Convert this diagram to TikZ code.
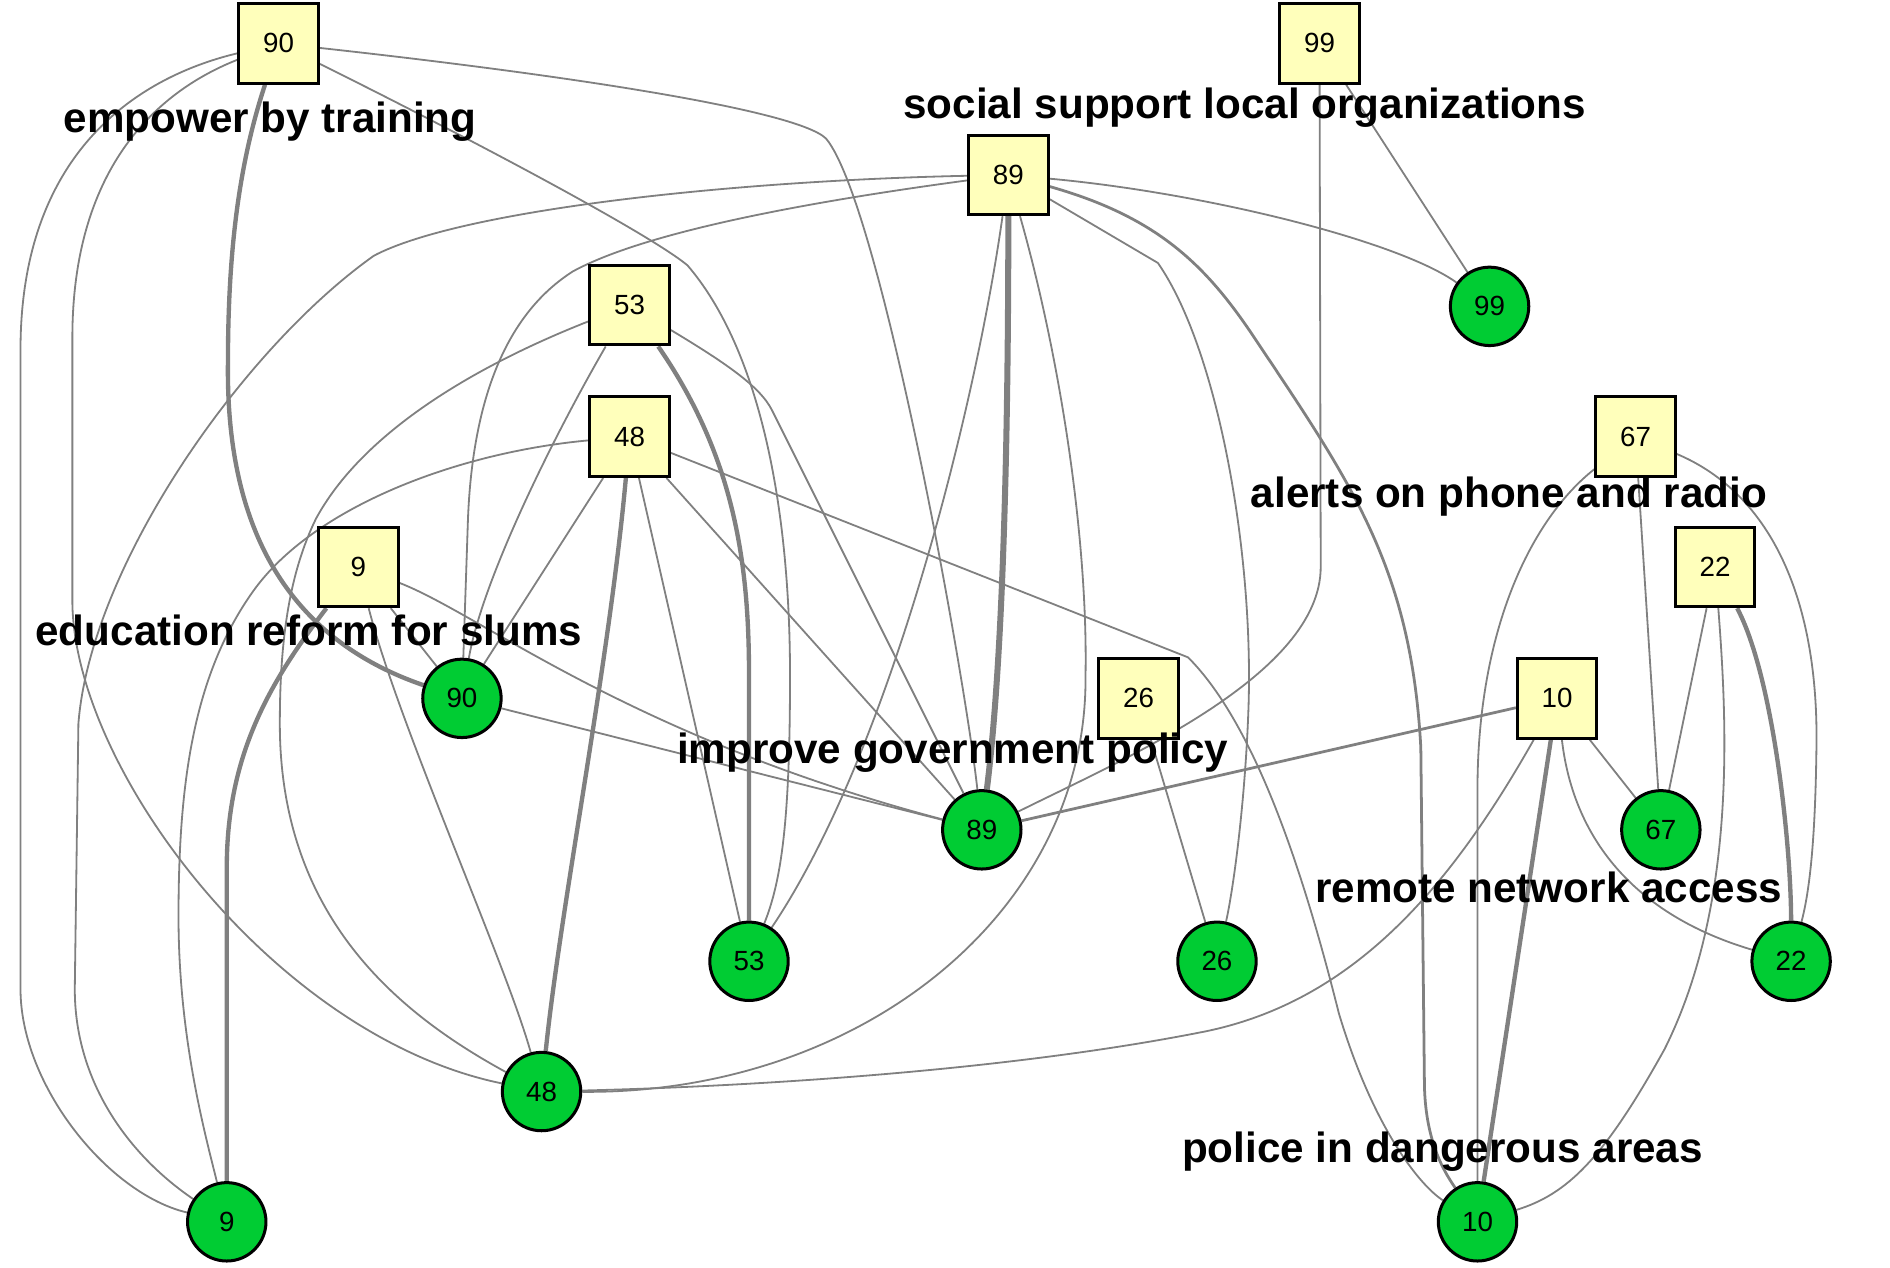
\documentclass[tikz,border=0pt]{standalone}
\usepackage{fontspec}
\setmainfont{Liberation Sans}
\definecolor{sqfill}{HTML}{FFFFBB}
\definecolor{cfill}{HTML}{00CC33}
\definecolor{edgegray}{HTML}{808080}
\pgfdeclarelayer{bg}
\pgfsetlayers{bg,main}
\tikzset{
  sqnode/.style={draw=black, line width=2.5pt, fill=sqfill, minimum size=66pt, inner sep=0pt, font=\fontsize{23}{26}\selectfont},
  cnode/.style={circle, draw=black, line width=2.5pt, fill=cfill, minimum size=65pt, inner sep=0pt, font=\fontsize{23}{26}\selectfont},
  lbl/.style={font=\fontsize{35}{40}\selectfont\bfseries, anchor=base, inner sep=0pt},
  lnk/.style={draw=edgegray, line width=1.5pt},
  lnkmid/.style={draw=edgegray, line width=2.3pt},
  lnkthick/.style={draw=edgegray, line width=3.6pt},
  lnkheavy/.style={draw=edgegray, line width=5pt}
}
\begin{document}
\begin{tikzpicture}[x=1pt,y=-1pt]
\useasboundingbox (0,0) rectangle (1567,1050.5);
% squares
\node[sqnode] (s90) at (231,36) {90};
\node[sqnode] (s99) at (1094,36) {99};
\node[sqnode] (s89) at (836,145) {89};
\node[sqnode] (s53) at (522,253) {53};
\node[sqnode] (s48) at (522,362) {48};
\node[sqnode] (s67) at (1356,362) {67};
\node[sqnode] (s9) at (297,470) {9};
\node[sqnode] (s22) at (1422,470) {22};
\node[sqnode] (s26) at (944,579) {26};
\node[sqnode] (s10) at (1291,579) {10};
% circles
\node[cnode] (c99) at (1235,254) {99};
\node[cnode] (c90) at (383,579) {90};
\node[cnode] (c89) at (814,688) {89};
\node[cnode] (c67) at (1377,688) {67};
\node[cnode] (c53) at (621,797) {53};
\node[cnode] (c26) at (1009,797) {26};
\node[cnode] (c22) at (1485,797) {22};
\node[cnode] (c48) at (449,905) {48};
\node[cnode] (c9) at (188,1013) {9};
\node[cnode] (c10) at (1225,1013) {10};
% labels
\node[lbl] (l1) at (224,110) {empower by training};
\node[lbl] (l2) at (1032,98) {social support local organizations};
\node[lbl] (l3) at (1251,421) {alerts on phone and radio};
\node[lbl] (l4) at (256,535) {education reform for slums};
\node[lbl] (l5) at (790,633) {improve government policy};
\node[lbl] (l6) at (1284,748) {remote network access};
\node[lbl] (l7) at (1196,964) {police in dangerous areas};
\begin{pgfonlayer}{bg}
% from square 90
\draw[lnkthick] (s90) .. controls (200,130) and (189,200) .. (189,300) .. controls (187,440) and (240,530) .. (c90);
\draw[lnk] (s90) .. controls (110,65) and (17,130) .. (17,290) -- (17,820) .. controls (17,900) and (90,990) .. (c9);
\draw[lnk] (s90) .. controls (120,80) and (60,150) .. (60,280) -- (60,500) .. controls (62,640) and (230,860) .. (c48);
\draw[lnk] (s90) .. controls (450,60) and (660,90) .. (685,115) .. controls (730,170) and (800,560) .. (c89);
\draw[lnk] (s90) .. controls (400,120) and (540,195) .. (570,220) .. controls (630,290) and (655,420) .. (655,560) .. controls (655,680) and (648,730) .. (c53);
% from square 99
\draw[lnk] (s99) -- (c99);
\draw[lnk] (s99) -- (1095,470) .. controls (1095,560) and (930,630) .. (c89);
% from square 89
\draw[lnkheavy] (s89) .. controls (836,400) and (830,560) .. (c89);
\draw[lnk] (s89) .. controls (600,150) and (380,175) .. (310,212) .. controls (200,290) and (75,470) .. (65,600) -- (62,820) .. controls (62,900) and (110,960) .. (c9);
\draw[lnk] (s89) .. controls (650,170) and (530,195) .. (475,225) .. controls (420,260) and (392,330) .. (388,430) -- (c90);
\draw[lnk] (s89) .. controls (810,330) and (740,620) .. (c53);
\draw[lnk] (s89) .. controls (880,300) and (902,450) .. (900,560) .. controls (902,755) and (715,907) .. (c48);
\draw[lnk] (s89) -- (960,218) .. controls (1010,290) and (1040,460) .. (1035,590) .. controls (1032,670) and (1022,740) .. (c26);
\draw[lnkmid] (s89) .. controls (960,180) and (1000,220) .. (1040,280) .. controls (1120,400) and (1170,470) .. (1178,620) -- (1181,900) .. controls (1182,950) and (1200,975) .. (c10);
\draw[lnk] (s89) .. controls (1000,160) and (1160,200) .. (c99);
% from square 53
\draw[lnkthick] (s53) .. controls (610,380) and (621,470) .. (621,560) -- (c53);
\draw[lnk] (s53) .. controls (390,305) and (300,360) .. (262,430) .. controls (240,475) and (232,530) .. (232,600) .. controls (232,760) and (330,840) .. (c48);
\draw[lnk] (s53) .. controls (460,360) and (400,480) .. (c90);
\draw[lnk] (s53) .. controls (600,300) and (630,320) .. (640,340) -- (c89);
% from square 48
\draw[lnkthick] (s48) .. controls (505,550) and (465,750) .. (c48);
\draw[lnk] (s48) .. controls (380,375) and (260,420) .. (210,490) .. controls (160,560) and (148,650) .. (148,760) .. controls (148,860) and (170,940) .. (c9);
\draw[lnk] (s48) -- (c90);
\draw[lnk] (s48) -- (c53);
\draw[lnk] (s48) -- (c89);
\draw[lnk] (s48) -- (985,545) .. controls (1040,600) and (1080,720) .. (1110,840) .. controls (1140,940) and (1180,985) .. (c10);
% from square 67
\draw[lnk] (s67) -- (c67);
\draw[lnk] (s67) .. controls (1270,430) and (1226,520) .. (1225,650) -- (c10);
\draw[lnk] (s67) .. controls (1470,410) and (1508,500) .. (1506,620) .. controls (1505,700) and (1500,740) .. (c22);
% from square 22
\draw[lnk] (s22) -- (c67);
\draw[lnkthick] (s22) .. controls (1470,560) and (1485,700) .. (c22);
\draw[lnk] (s22) .. controls (1432,600) and (1440,750) .. (1380,870) .. controls (1330,960) and (1300,990) .. (c10);
% from square 26
\draw[lnk] (s26) -- (c26);
% from square 10
\draw[lnkthick] (s10) -- (c10);
\draw[lnkmid] (s10) -- (c89);
\draw[lnk] (s10) .. controls (1200,740) and (1120,830) .. (1000,855) .. controls (850,885) and (650,900) .. (c48);
\draw[lnk] (s10) .. controls (1305,700) and (1360,760) .. (c22);
\draw[lnk] (s10) -- (c67);
% from square 9
\draw[lnkthick] (s9) .. controls (220,570) and (188,630) .. (188,720) -- (c9);
\draw[lnk] (s9) -- (c90);
\draw[lnk] (s9) .. controls (330,600) and (420,800) .. (c48);
\draw[lnk] (s9) .. controls (400,510) and (520,610) .. (c89);
% circle to circle
\draw[lnk] (c90) -- (c89);
\end{pgfonlayer}
\end{tikzpicture}
\end{document}
